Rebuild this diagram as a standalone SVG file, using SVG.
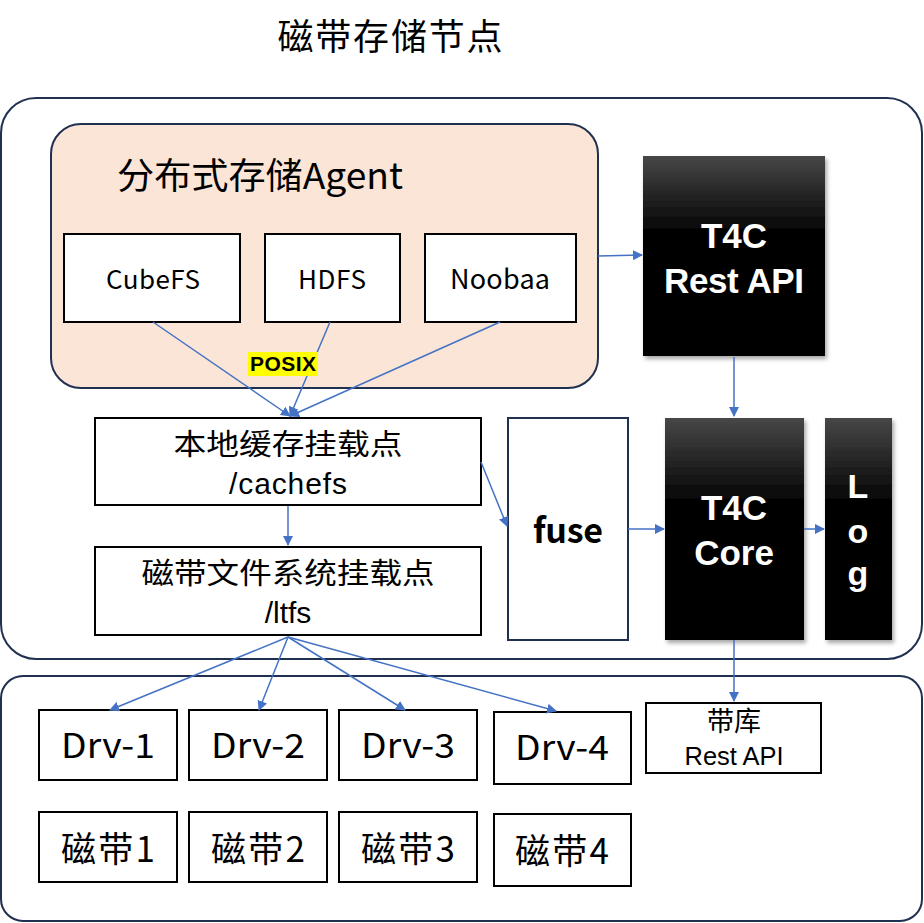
<svg xmlns="http://www.w3.org/2000/svg" width="924" height="923" viewBox="0 0 924 923">
<defs>
<style>
.t{font-family:"Noto Sans CJK SC","Liberation Sans",sans-serif;fill:#000;text-anchor:middle}
.l{font-family:"Liberation Sans","Noto Sans CJK SC",sans-serif;fill:#000;text-anchor:middle}
.w{font-family:"Liberation Sans","Noto Sans CJK SC",sans-serif;fill:#fff;font-weight:bold;text-anchor:middle}
.box{fill:#fff;stroke:#000;stroke-width:2}
.navy{fill:none;stroke:#1f3050;stroke-width:2}
.c{fill:none;stroke:#4472c4;stroke-width:1.5;marker-end:url(#ah)}
</style>
<marker id="ah" viewBox="0 0 10 10" refX="9" refY="5" markerWidth="10" markerHeight="10" markerUnits="userSpaceOnUse" orient="auto">
<path d="M0,0 L10,5 L0,10 z" fill="#4472c4"/>
</marker>
<linearGradient id="blk" x1="0" y1="0" x2="0" y2="1">
<stop offset="0" stop-color="#474747"/>
<stop offset="0.4" stop-color="#000"/>
<stop offset="1" stop-color="#000"/>
</linearGradient>
<filter id="sh" x="-10%" y="-10%" width="130%" height="130%">
<feDropShadow dx="2" dy="3" stdDeviation="2" flood-color="#000" flood-opacity="0.35"/>
</filter>
</defs>

<text class="t" x="390" y="50" font-size="36" textLength="225">磁带存储节点</text>

<rect id="outer-top" class="navy" x="1" y="98" width="921" height="561" rx="35"/>
<rect id="outer-bottom" class="navy" x="1" y="676" width="921" height="245" rx="22"/>

<g id="agent">
<rect x="51" y="124" width="547" height="264" rx="30" fill="#fae5d6" stroke="#1f3050" stroke-width="2"/>
<text class="t" x="260" y="189" font-size="36" textLength="286" lengthAdjust="spacingAndGlyphs">分布式存储Agent</text>
</g>
<g id="cubefs">
<rect class="box" x="64" y="234" width="176" height="88"/>
<text class="t" x="153" y="289" font-size="26" textLength="94">CubeFS</text>
</g>
<g id="hdfs">
<rect class="box" x="265" y="234" width="135" height="88"/>
<text class="t" x="332" y="289" font-size="26" textLength="68">HDFS</text>
</g>
<g id="noobaa">
<rect class="box" x="425" y="234" width="151" height="88"/>
<text class="t" x="500" y="289" font-size="27" textLength="100">Noobaa</text>
</g>

<g id="cache">
<rect class="box" x="95" y="418" width="386" height="87"/>
<text class="t" x="288" y="455" font-size="29" textLength="229" lengthAdjust="spacingAndGlyphs">本地缓存挂载点</text>
<text class="l" x="288" y="494" font-size="30" textLength="118">/cachefs</text>
</g>
<g id="ltfs">
<rect class="box" x="95" y="547" width="386" height="88"/>
<text class="t" x="288" y="584" font-size="29" textLength="293" lengthAdjust="spacingAndGlyphs">磁带文件系统挂载点</text>
<text class="l" x="288" y="623" font-size="30">/ltfs</text>
</g>
<g id="fuse">
<rect x="508" y="418" width="120" height="222" fill="#fff" stroke="#1f3050" stroke-width="2"/>
<text class="t" x="568" y="543" font-size="34" font-weight="bold" textLength="70">fuse</text>
</g>

<g id="restapi">
<rect x="643" y="156" width="182" height="200" fill="url(#blk)" filter="url(#sh)"/>
<text class="w" x="734" y="248" font-size="35">T4C</text>
<text class="w" x="734" y="293" font-size="35" textLength="140">Rest API</text>
</g>
<g id="core">
<rect x="665" y="418" width="139" height="222" fill="url(#blk)" filter="url(#sh)"/>
<text class="w" x="734" y="520" font-size="35">T4C</text>
<text class="w" x="734" y="565" font-size="35">Core</text>
</g>
<g id="log">
<rect x="825" y="418" width="67" height="222" fill="url(#blk)" filter="url(#sh)"/>
<text class="w" x="858" y="498" font-size="34">L</text>
<text class="w" x="858" y="543" font-size="34">o</text>
<text class="w" x="858" y="585" font-size="34">g</text>
</g>

<g id="drv1"><rect class="box" x="39" y="710" width="138" height="70"/><text class="t" x="108" y="758" font-size="34" textLength="94" lengthAdjust="spacingAndGlyphs">Drv-1</text></g>
<g id="drv2"><rect class="box" x="189" y="710" width="138" height="70"/><text class="t" x="258" y="758" font-size="34" textLength="94" lengthAdjust="spacingAndGlyphs">Drv-2</text></g>
<g id="drv3"><rect class="box" x="339" y="710" width="138" height="70"/><text class="t" x="408" y="758" font-size="34" textLength="94" lengthAdjust="spacingAndGlyphs">Drv-3</text></g>
<g id="drv4"><rect class="box" x="494" y="712" width="137" height="72"/><text class="t" x="562" y="760" font-size="34" textLength="94" lengthAdjust="spacingAndGlyphs">Drv-4</text></g>
<g id="tape1"><rect class="box" x="39" y="812" width="138" height="70"/><text class="t" x="108" y="862" font-size="35" textLength="94">磁带1</text></g>
<g id="tape2"><rect class="box" x="189" y="812" width="138" height="70"/><text class="t" x="258" y="862" font-size="35" textLength="94">磁带2</text></g>
<g id="tape3"><rect class="box" x="339" y="812" width="138" height="70"/><text class="t" x="408" y="862" font-size="35" textLength="94">磁带3</text></g>
<g id="tape4"><rect class="box" x="494" y="814" width="137" height="72"/><text class="t" x="562" y="864" font-size="35" textLength="94">磁带4</text></g>
<g id="libapi">
<rect class="box" x="646" y="703" width="175" height="70"/>
<text class="t" x="734" y="731" font-size="27">带库</text>
<text class="l" x="734" y="765" font-size="25" textLength="99" lengthAdjust="spacingAndGlyphs">Rest API</text>
</g>

<g id="connectors">
<path class="c" d="M153,322 L290,416"/>
<path class="c" d="M330,322 L290,416"/>
<path class="c" d="M500,322 L290,416"/>
<path class="c" d="M598,256 L642,255"/>
<path class="c" d="M734,357 L734,416"/>
<path class="c" d="M288,506 L288,545"/>
<path class="c" d="M481,462 L507,526"/>
<path class="c" d="M628,529 L664,529"/>
<path class="c" d="M804,529 L824,529"/>
<path class="c" d="M734,640 L734,701"/>
<path class="c" d="M288,637 L110,710"/>
<path class="c" d="M288,637 L259,710"/>
<path class="c" d="M288,637 L405,710"/>
<path class="c" d="M288,637 L556,711"/>
</g>

<g id="posix">
<rect x="248" y="352" width="70" height="24" fill="#ffff00"/>
<text x="283" y="371" font-family="Liberation Sans,sans-serif" font-size="21" font-weight="bold" text-anchor="middle" textLength="66">POSIX</text>
</g>
</svg>
